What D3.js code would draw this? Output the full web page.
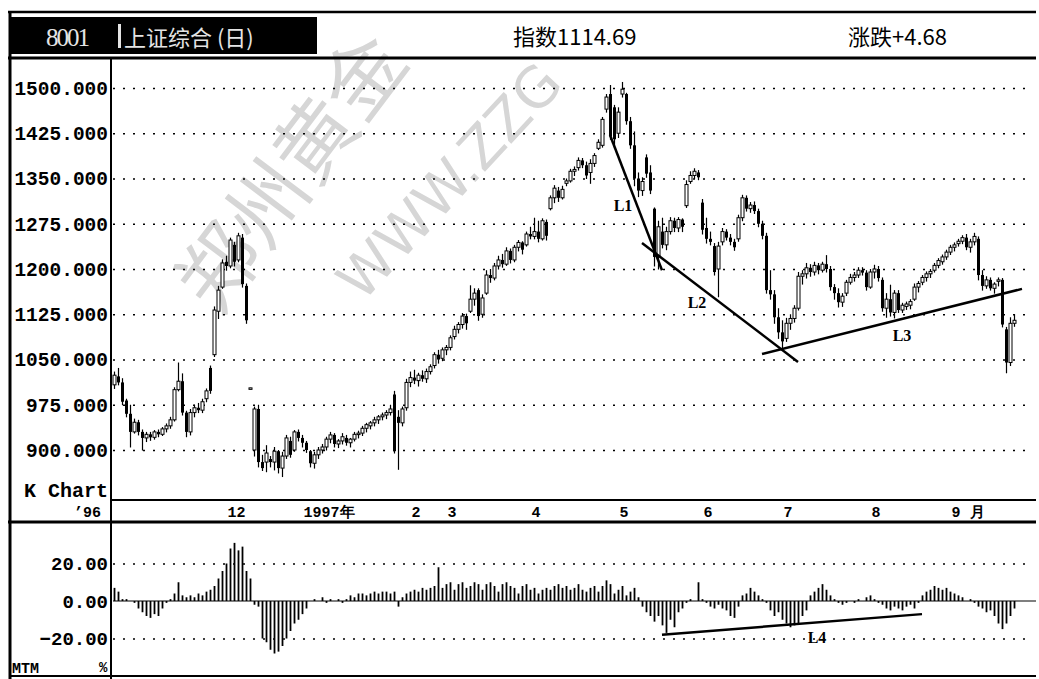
<!DOCTYPE html>
<html>
<head>
<meta charset="utf-8">
<script src="https://cdn.jsdelivr.net/npm/d3@7"></script>
<style>
body { margin: 0; background: #fff; }
svg { display: block; }
.lbl { font-family: "Liberation Mono", "DejaVu Sans Mono", monospace; font-weight: bold; fill: #000; }
.grid line { stroke: #000; stroke-width: 1.6; stroke-dasharray: 2 8; }
.grid .domain { display: none; }
</style>
</head>
<body>
<div id="chart"></div>
<script>
// daily K data [open, high, low, close], Oct 1996 - Sep 1997
var kData = [
	[1008,1030,1002,1024],[1022,1036,1008,1012],[1012,1019,975,980],[982,985,955,960],[960,975,905,930],
	[930,952,928,946],[946,950,925,930],[930,934,900,920],[920,930,914,926],[926,930,916,921],
	[921,933,918,930],[930,934,922,926],[926,938,924,935],[935,944,930,940],[940,955,936,950],
	[950,1004,948,1000],[1000,1045,998,1014],[1014,1027,958,962],[962,965,922,930],[930,968,925,962],
	[962,975,955,970],[970,978,962,966],[966,985,962,980],[985,1002,980,998],[1036,1040,994,998],
	[1058,1138,1055,1132],[1130,1172,1118,1165],[1170,1216,1168,1210],[1212,1222,1198,1205],[1205,1252,1202,1248],
	[1240,1245,1205,1212],[1215,1260,1212,1255],[1252,1258,1170,1175],[1172,1176,1110,1115],[1003,1003,1003,1003],
	[900,972,890,968],[968,975,872,880],[880,892,866,870],[880,908,864,895],[885,890,872,880],
	[880,905,867,898],[898,900,862,870],[870,897,856,890],[890,925,886,920],[915,922,888,892],
	[900,933,898,930],[930,934,915,920],[920,925,905,912],[912,915,896,900],[898,900,872,878],
	[878,897,870,892],[892,905,886,900],[900,910,895,905],[905,922,900,918],[918,930,912,925],
	[925,928,905,910],[910,918,904,915],[915,928,910,922],[920,925,908,912],[912,920,905,918],
	[918,930,915,926],[926,932,920,928],[928,940,924,936],[936,945,930,942],[940,948,935,945],
	[945,955,940,950],[950,958,944,955],[955,962,950,958],[958,966,952,962],[962,975,958,968],
	[992,998,895,898],[955,966,868,945],[945,972,940,968],[970,1018,966,1012],[1012,1030,1005,1020],
	[1020,1033,1010,1015],[1015,1028,1006,1024],[1024,1032,1014,1018],[1018,1035,1012,1030],[1030,1042,1026,1038],
	[1040,1062,1036,1058],[1058,1066,1044,1050],[1052,1070,1048,1066],[1066,1074,1058,1070],[1070,1090,1066,1086],
	[1088,1106,1084,1100],[1100,1112,1094,1108],[1108,1127,1102,1122],[1122,1126,1100,1110],[1130,1173,1128,1150],
	[1150,1168,1140,1160],[1165,1168,1115,1122],[1125,1158,1120,1152],[1160,1198,1158,1190],[1190,1200,1178,1185],
	[1185,1210,1182,1205],[1205,1222,1200,1215],[1215,1225,1203,1208],[1208,1236,1206,1230],[1230,1234,1210,1215],
	[1215,1240,1212,1236],[1236,1248,1230,1244],[1244,1246,1225,1232],[1240,1262,1238,1258],[1258,1270,1250,1254],
	[1254,1285,1250,1262],[1262,1280,1245,1250],[1250,1284,1248,1280],[1278,1282,1248,1255],[1300,1322,1298,1318],
	[1318,1339,1310,1334],[1330,1336,1312,1318],[1318,1338,1316,1332],[1342,1350,1338,1346],[1346,1366,1344,1362],
	[1362,1370,1355,1365],[1368,1385,1364,1380],[1380,1384,1368,1372],[1372,1378,1350,1355],[1360,1382,1342,1375],
	[1375,1392,1370,1388],[1400,1415,1398,1410],[1405,1452,1402,1448],[1465,1490,1460,1485],[1490,1505,1415,1420],
	[1468,1472,1402,1415],[1425,1468,1418,1460],[1490,1510,1485,1498],[1490,1492,1440,1445],[1445,1452,1400,1405],
	[1405,1428,1338,1350],[1350,1360,1320,1330],[1330,1352,1322,1345],[1385,1390,1352,1358],[1360,1372,1325,1330],
	[1300,1302,1205,1220],[1220,1280,1200,1270],[1262,1285,1235,1240],[1240,1270,1232,1262],[1262,1286,1258,1280],
	[1280,1285,1262,1268],[1268,1286,1262,1282],[1282,1284,1262,1270],[1305,1347,1302,1340],[1345,1362,1342,1355],
	[1355,1367,1350,1362],[1360,1364,1348,1352],[1310,1316,1258,1265],[1268,1285,1243,1250],[1250,1262,1240,1245],
	[1238,1243,1190,1195],[1200,1245,1154,1238],[1245,1268,1240,1262],[1262,1266,1248,1252],[1252,1258,1240,1245],
	[1245,1250,1231,1236],[1250,1290,1246,1285],[1285,1323,1280,1318],[1318,1322,1296,1300],[1300,1311,1294,1306],
	[1306,1312,1292,1296],[1296,1300,1270,1275],[1275,1280,1250,1255],[1255,1260,1160,1165],[1165,1198,1150,1158],
	[1158,1165,1110,1120],[1120,1135,1085,1095],[1095,1115,1066,1080],[1085,1119,1080,1110],[1110,1125,1100,1118],
	[1118,1140,1112,1135],[1135,1195,1132,1188],[1188,1198,1175,1192],[1192,1210,1185,1202],[1202,1208,1188,1195],
	[1195,1212,1190,1206],[1206,1210,1192,1198],[1198,1212,1195,1208],[1208,1223,1195,1200],[1200,1205,1165,1170],
	[1170,1175,1150,1160],[1160,1168,1137,1145],[1145,1160,1138,1155],[1160,1182,1156,1178],[1178,1192,1175,1186],
	[1186,1195,1180,1190],[1190,1203,1186,1198],[1198,1203,1190,1194],[1194,1198,1165,1170],[1170,1200,1168,1195],
	[1195,1207,1185,1200],[1200,1205,1180,1185],[1182,1186,1130,1135],[1135,1160,1120,1150],[1150,1174,1122,1128],
	[1128,1165,1119,1160],[1160,1165,1128,1132],[1132,1144,1128,1140],[1138,1146,1133,1142],[1140,1150,1134,1146],
	[1150,1176,1148,1170],[1170,1180,1162,1176],[1178,1190,1174,1186],[1186,1196,1180,1192],[1192,1200,1186,1196],
	[1198,1210,1195,1206],[1206,1218,1202,1214],[1212,1224,1208,1220],[1220,1232,1216,1228],[1228,1240,1224,1236],
	[1236,1244,1230,1240],[1242,1250,1238,1246],[1246,1256,1242,1252],[1252,1258,1232,1236],[1236,1250,1228,1245],
	[1245,1260,1240,1254],[1250,1254,1182,1190],[1190,1198,1165,1172],[1172,1188,1168,1182],[1182,1186,1165,1168],
	[1168,1178,1160,1175],[1180,1186,1172,1182],[1182,1185,1104,1108],[1100,1104,1028,1045],[1045,1120,1040,1110],
	[1110,1125,1105,1115]
];

// MTM % per day
var mtmData = [
	7,5,1,1,0,-1,-4,-6,-8,-9, -7,-8,-4,-1,1,4,10,3,2,3,
	2,4,3,5,6,8,12,16,20,28, 31,27,29,16,12,-2,-3,-20,-22,-26,
	-28,-27,-24,-20,-16,-12,-10,-7,-4,0, 1,0,2,-1,1,0,1,-1,1,3,
	2,4,4,3,4,5,4,5,5,4, 5,-3,2,4,5,6,5,7,6,7,
	8,18,7,9,10,6,9,10,7,8, 10,9,6,9,10,8,5,9,10,8,
	7,4,8,9,6,7,4,6,7,6, 8,9,7,8,6,7,9,6,5,7,
	8,5,8,11,9,4,6,8,3,5, 7,2,-3,-6,-8,-11,-8,-13,-17,-10,
	-14,-6,-4,-1,1,0,10,1,-1,-3, -4,-2,-4,-5,-8,-9,-3,3,4,7,
	5,3,1,-1,-5,-8,-6,-10,-12,-14, -13,-12,-8,-5,3,5,7,9,6,3,
	1,-1,-2,-1,0,-1,1,0,2,3, 1,-1,-2,-4,-5,-3,-4,-5,-3,-2,
	-4,-1,3,5,6,8,7,6,7,5, 4,3,2,0,1,-1,-3,-4,-6,-5,
	-8,-12,-15,-12,-8,-4
];

var priceTicks = [1500, 1425, 1350, 1275, 1200, 1125, 1050, 975, 900];
var mtmTicks = [20, 0, -20];
var monthIdx = [28, 47, 74, 83, 104, 126, 147, 167, 189, 209];
var monthLabels = ['12', '1997年', '2', '3', '4', '5', '6', '7', '8', '9 月'];

// trend lines as [day index, value]
var trendL1 = [[123.75, 1422], [136.75, 1198]];
var trendL2 = [[131.75, 1243], [170.75, 1046]];
var trendL3 = [[161.75, 1059], [226.75, 1167]];
var trendL4 = [[136.75, -18], [201.75, -7]];
var trendNames = ['L1', 'L2', 'L3'];
var trendLabelPos = [[127, 1306], [145.5, 1145], [196.75, 1089]];


var width = 1039,
	height = 679;

var xScale = d3.scaleLinear()
				.domain([0, kData.length - 1])
				.range([115, 1015]);

var yScale = d3.scaleLinear()
				.domain([900, 1500])
				.range([450, 88]);

var mScale = d3.scaleLinear()
				.domain([-20, 20])
				.range([638.5, 563.5]);

var svg = d3.select('#chart').append('svg')
			.attr('width', width)
			.attr('height', height);

svg.append('rect')
	.attr('width', width)
	.attr('height', height)
	.attr('fill', '#fff');


// Watermark (drawn first so the chart sits on top)
var wm = svg.append('g')
			.attr('fill', '#d6d6d6');

wm.append('text')
	.attr('transform', 'translate(190,296) rotate(-53)')
	.attr('dominant-baseline', 'central')
	.style('font-family', '"Noto Sans CJK SC", sans-serif')
	.style('font-size', '80px')
	.text('郑州黄金');

wm.append('text')
	.attr('transform', 'translate(348,290) rotate(-47)')
	.attr('dominant-baseline', 'central')
	.style('font-family', '"DejaVu Sans", sans-serif')
	.style('font-size', '56px')
	.text('WWW.ZZG');


// Header
svg.append('rect')
	.attr('x', 10)
	.attr('y', 17)
	.attr('width', 307)
	.attr('height', 37)
	.attr('fill', '#000');

svg.append('text')
	.attr('x', 46)
	.attr('y', 46)
	.attr('fill', '#e4e4e4')
	.style('font-family', '"Liberation Serif", serif')
	.style('font-size', '25px')
	.attr('textLength', 44)
	.text('8001');

svg.append('rect')
	.attr('x', 118)
	.attr('y', 24)
	.attr('width', 3)
	.attr('height', 24)
	.attr('fill', '#e4e4e4');

svg.append('text')
	.attr('x', 124)
	.attr('y', 46)
	.attr('fill', '#e4e4e4')
	.style('font-family', '"Noto Sans CJK SC", sans-serif')
	.style('font-size', '22px')
	.text('上证综合 (日)');

svg.append('text')
	.attr('x', 513)
	.attr('y', 45)
	.style('font-family', '"Noto Sans CJK SC", sans-serif')
	.style('font-size', '22px')
	.text('指数1114.69');

svg.append('text')
	.attr('x', 848)
	.attr('y', 45)
	.style('font-family', '"Noto Sans CJK SC", sans-serif')
	.style('font-size', '22px')
	.text('涨跌+4.68');


// Dotted grid lines
svg.append('g')
	.attr('class', 'grid')
	.attr('transform', 'translate(113,0)')
	.call(d3.axisLeft(yScale).tickValues(priceTicks).tickSize(-917).tickFormat(''));

svg.append('g')
	.attr('class', 'grid')
	.attr('transform', 'translate(113,0)')
	.call(d3.axisLeft(mScale).tickValues([20, -20]).tickSize(-917).tickFormat(''));


// Price labels
var yAxis = svg.append('g')
	.attr('transform', 'translate(110,0)')
	.call(d3.axisLeft(yScale).tickValues(priceTicks).tickSize(0).tickPadding(2).tickFormat(d3.format('.3f')));
yAxis.select('.domain').remove();
yAxis.selectAll('text')
	.attr('class', 'lbl')
	.style('font-size', '19.5px');

// MTM labels
var mAxis = svg.append('g')
	.attr('transform', 'translate(110,0)')
	.call(d3.axisLeft(mScale).tickValues(mtmTicks).tickSize(0).tickPadding(2).tickFormat(d3.format('.2f')));
mAxis.select('.domain').remove();
mAxis.selectAll('text')
	.attr('class', 'lbl')
	.style('font-size', '19px');

// Month labels
var xAxis = svg.append('g')
	.attr('transform', 'translate(0,500)')
	.call(d3.axisBottom(xScale).tickValues(monthIdx).tickSize(0).tickPadding(6)
		.tickFormat(function(d, i) { return monthLabels[i]; }));
xAxis.select('.domain').remove();
xAxis.selectAll('text')
	.attr('class', 'lbl')
	.attr('text-anchor', 'start')
	.style('font-size', '15px');

svg.append('text').attr('class', 'lbl')
	.attr('x', 108).attr('y', 497).attr('text-anchor', 'end')
	.style('font-size', '20px')
	.text('K Chart');

svg.append('text').attr('class', 'lbl')
	.attr('x', 101).attr('y', 517).attr('text-anchor', 'end')
	.style('font-size', '15px')
	.text('\u201996');

svg.append('text').attr('class', 'lbl')
	.attr('x', 12).attr('y', 673)
	.style('font-size', '15px')
	.text('MTM');

svg.append('text').attr('class', 'lbl')
	.attr('x', 99).attr('y', 672)
	.style('font-size', '14px')
	.text('%');


// Frame lines
var frame = [
	[8, 12, 1036, 12, 2.5],
	[8, 58, 1036, 58, 3],
	[10, 12, 10, 679, 3],
	[111, 58, 111, 679, 2],
	[111, 500, 1036, 500, 2],
	[8, 522, 1036, 522, 3],
	[10, 676, 1036, 676, 2]
];
svg.selectAll('.frame').data(frame).enter()
	.append('line')
		.attr('class', 'frame')
		.attr('x1', function(d) { return d[0]; })
		.attr('y1', function(d) { return d[1]; })
		.attr('x2', function(d) { return d[2]; })
		.attr('y2', function(d) { return d[3]; })
		.attr('stroke', '#000')
		.attr('stroke-width', function(d) { return d[4]; });


// Candles
var candles = svg.append('g');

candles.selectAll('.wick').data(kData).enter()
	.append('line')
		.attr('class', 'wick')
		.attr('x1', function(d, i) { return xScale(i) - 0.5; })
		.attr('x2', function(d, i) { return xScale(i) - 0.5; })
		.attr('y1', function(d) { return yScale(d[1]); })
		.attr('y2', function(d) { return yScale(d[2]) + 0.5; })
		.attr('stroke', '#000')
		.attr('stroke-width', 1.2);

candles.selectAll('.body').data(kData).enter()
	.append('rect')
		.attr('class', 'body')
		.attr('x', function(d, i) { return xScale(i) - 2; })
		.attr('y', function(d) { return yScale(Math.max(d[0], d[3])); })
		.attr('width', 3)
		.attr('height', function(d) {
			return Math.max(1.5, Math.abs(yScale(d[0]) - yScale(d[3])));
		})
		.attr('fill', function(d) { return d[3] >= d[0] ? '#fff' : '#000'; })
		.attr('stroke', function(d) { return d[3] >= d[0] ? '#000' : 'none'; })
		.attr('stroke-width', 1);


// MTM bars
svg.append('line')
	.attr('x1', 113).attr('x2', 1036)
	.attr('y1', mScale(0)).attr('y2', mScale(0))
	.attr('stroke', '#000')
	.attr('stroke-width', 1.2);

svg.selectAll('.mtm').data(mtmData).enter()
	.append('line')
		.attr('class', 'mtm')
		.attr('x1', function(d, i) { return xScale(i) - 0.5; })
		.attr('x2', function(d, i) { return xScale(i) - 0.5; })
		.attr('y1', mScale(0))
		.attr('y2', function(d) { return mScale(d); })
		.attr('stroke', '#000')
		.attr('stroke-width', 1.8);


// Trend lines
var line = d3.line()
			.x(function(d) { return xScale(d[0]); })
			.y(function(d) { return yScale(d[1]); });

var mLine = d3.line()
			.x(function(d) { return xScale(d[0]); })
			.y(function(d) { return mScale(d[1]); });

[trendL1, trendL2, trendL3].forEach(function(t) {
	svg.append('path')
		.attr('d', line(t))
		.attr('fill', 'none')
		.attr('stroke', '#000')
		.attr('stroke-width', 2.5);
});

svg.append('path')
	.attr('d', mLine(trendL4))
	.attr('fill', 'none')
	.attr('stroke', '#000')
	.attr('stroke-width', 2.5);

svg.selectAll('.tname').data(trendNames).enter()
	.append('text')
		.attr('class', 'tname')
		.attr('x', function(d, i) { return xScale(trendLabelPos[i][0]); })
		.attr('y', function(d, i) { return yScale(trendLabelPos[i][1]); })
		.attr('text-anchor', 'middle')
		.attr('dominant-baseline', 'central')
		.style('font-family', '"Liberation Serif", serif')
		.style('font-weight', 'bold')
		.style('font-size', '16px')
		.text(function(d) { return d; });

svg.append('text')
	.attr('x', xScale(175.5))
	.attr('y', mScale(-19.7))
	.attr('text-anchor', 'middle')
	.attr('dominant-baseline', 'central')
	.style('font-family', '"Liberation Serif", serif')
	.style('font-weight', 'bold')
	.style('font-size', '16px')
	.text('L4');
</script>
</body>
</html>
